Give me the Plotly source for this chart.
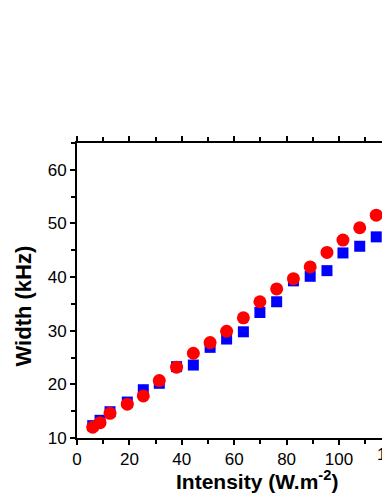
import plotly.graph_objects as go

# intensity (W.m^-2), shared by both series
intensity = [6.0, 8.8, 12.6, 19.2, 25.3, 31.4, 38.0, 44.4, 50.8, 57.1,
             63.5, 69.8, 76.2, 82.6, 89.0, 95.4, 101.5, 107.9, 114.2]

# width (kHz)
width_blue = [12.3, 13.3, 14.9, 16.7, 19.0, 20.2, 23.3, 23.6, 26.9, 28.45,
              29.8, 33.4, 35.4, 39.3, 40.15, 41.2, 44.5, 45.75, 47.5]
width_red = [12.0, 12.86, 14.6, 16.3, 17.85, 20.7, 23.2, 25.8, 27.8, 29.9,
             32.4, 35.4, 37.8, 39.7, 41.9, 44.6, 46.9, 49.2, 51.55]

font = "Liberation Sans, Arial, sans-serif"

fig = go.Figure()

# blue squares first, red circles drawn on top
fig.add_trace(go.Scatter(
    x=intensity, y=width_blue, mode="markers",
    marker=dict(symbol="square", size=11, color="#0000FF"),
    showlegend=False,
))
fig.add_trace(go.Scatter(
    x=intensity, y=width_red, mode="markers",
    marker=dict(symbol="circle", size=13, color="#FF0000"),
    showlegend=False,
))

axis_common = dict(
    showgrid=False, zeroline=False,
    showline=True, linecolor="black", linewidth=2,
    ticks="outside", ticklen=5, tickwidth=1.5, tickcolor="black",
    tickfont=dict(family=font, size=17, color="black"),
)

fig.update_xaxes(
    range=[0, 116.4], dtick=20, tick0=0, mirror="ticks",
    minor=dict(dtick=10, ticks="outside", ticklen=4, tickwidth=1.5, tickcolor="black"),
    **axis_common,
)
fig.update_yaxes(
    range=[10, 65], dtick=10, tick0=0,
    minor=dict(dtick=5, ticks="outside", ticklen=4, tickwidth=1.5, tickcolor="black"),
    **axis_common,
)

fig.update_layout(
    width=382, height=494,
    margin=dict(l=77, r=0, t=143, b=56),
    plot_bgcolor="white", paper_bgcolor="white",
    annotations=[
        dict(text="<b>Intensity (W.m<sup>-2</sup>)</b>", xref="paper", yref="paper",
             x=0.59, y=-0.144, xanchor="center", yanchor="middle", showarrow=False,
             font=dict(family=font, size=21, color="black")),
        dict(text="<b>Width (kHz)</b>", xref="paper", yref="paper",
             x=-0.174, y=0.449, xanchor="center", yanchor="middle", showarrow=False,
             textangle=-90, font=dict(family=font, size=22, color="black")),
        # tick label of 120 lies past the right edge, only its first digit shows
        dict(text="120", xref="paper", yref="paper",
             x=1.0295, y=-0.057, xanchor="center", yanchor="middle", showarrow=False,
             font=dict(family=font, size=17, color="black")),
    ],
)

# page body has a default 8px margin, drop it so the figure fills the window
fig.write_html("out.html", config={"displayModeBar": False},
               post_script="document.body.style.margin='0';document.body.style.overflow='hidden';")
